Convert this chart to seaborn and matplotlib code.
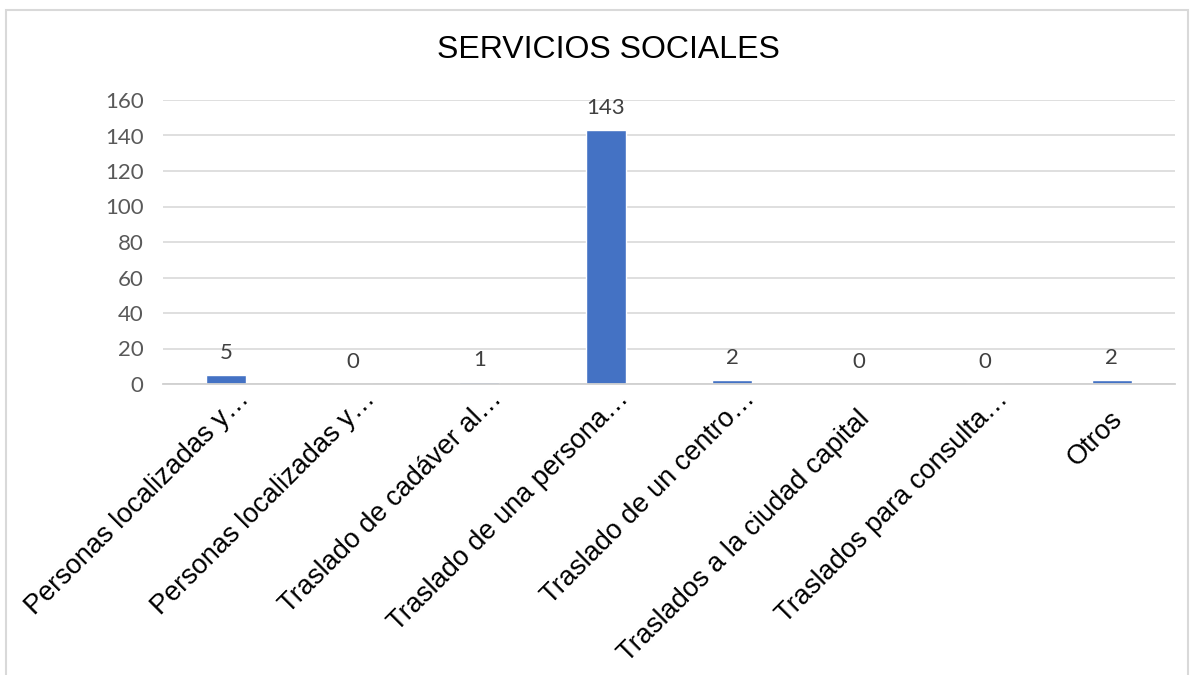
import matplotlib
matplotlib.use("Agg")
import matplotlib.pyplot as plt
import matplotlib.transforms as mtransforms
from matplotlib.patches import Rectangle
import seaborn as sns
import pandas as pd

# Data
categories = [
    "Personas localizadas y…",
    "Personas localizadas y…",
    "Traslado de cadáver al…",
    "Traslado de una persona…",
    "Traslado de un centro…",
    "Traslados a la ciudad capital",
    "Traslados para consulta…",
    "Otros",
]
values = [5, 0, 1, 143, 2, 0, 0, 2]
yticks = [0, 20, 40, 60, 80, 100, 120, 140, 160]

df = pd.DataFrame({"pos": range(len(categories)), "valor": values})

sns.set_style("white")
plt.rcParams["font.family"] = ["Liberation Sans", "DejaVu Sans"]

fig = plt.figure(figsize=(11.93, 6.75), dpi=100)
ax = fig.add_axes([163 / 1193, 1 - 384 / 675, (1175 - 163) / 1193, (384 - 100) / 675])

sns.barplot(data=df, x="pos", y="valor", color="#4472C4", width=0.32,
            saturation=1, ax=ax)

ax.set_xlim(-0.5, len(categories) - 0.5)
ax.set_ylim(0, 160)
ax.set_yticks(yticks)
ax.set_yticklabels([str(t) for t in yticks], fontfamily="Lato", fontsize=16, color="#595959")
ax.set_xticks(range(len(categories)))
ax.set_xticklabels([])
ax.tick_params(axis="x", length=0)
ax.tick_params(axis="y", length=0, pad=14)
ax.set_xlabel("")
ax.set_ylabel("")

# category labels, rotated, right end anchored just under each bar
base = ax.get_xaxis_transform()
for i, lab in enumerate(categories):
    if lab.endswith("…"):
        dx, dy = 24, -16
    else:
        dx, dy = 12, -36
    tr = base + mtransforms.ScaledTranslation(dx / 100, dy / 100, fig.dpi_scale_trans)
    ax.text(i, 0, lab, transform=tr, rotation=45, rotation_mode="anchor",
            ha="right", va="baseline", fontsize=19.5, color="black", clip_on=False)

ax.yaxis.grid(True, color="#D9D9D9", linewidth=1.2)
ax.set_axisbelow(True)
for side in ["left", "right", "top"]:
    ax.spines[side].set_visible(False)
ax.spines["bottom"].set_color("#D0D0D0")
ax.spines["bottom"].set_linewidth(1.3)

for cont in ax.containers:
    ax.bar_label(cont, labels=[str(v) for v in values], padding=9,
                 fontfamily="Lato", fontsize=16, color="#404040")

fig.text(608 / 1193, 1 - 50 / 675, "SERVICIOS SOCIALES", ha="center", va="center",
         fontsize=23, color="black")

# light border around the chart
fig.patches.append(Rectangle((6 / 1193, -0.05), (1188 - 6) / 1193, 1.05 - 10 / 675,
                             transform=fig.transFigure, fill=False,
                             edgecolor="#D9D9D9", linewidth=1.5))

fig.savefig("out.png", dpi=100)
